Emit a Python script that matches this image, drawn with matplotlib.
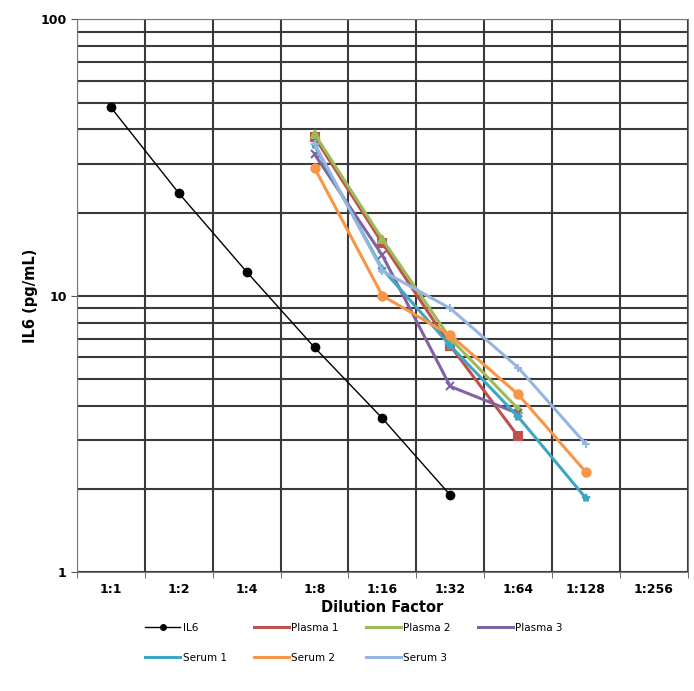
import matplotlib.pyplot as plt
import numpy as np

# dilution categories
cats = ['1:1', '1:2', '1:4', '1:8', '1:16', '1:32', '1:64', '1:128', '1:256']

il6 = [48, 23.5, 12.2, 6.5, 3.6, 1.9]
plasma1 = [37.5, 15.5, 6.6, 3.1]
plasma2 = [38.5, 16.0, 7.0, 3.9]
plasma3 = [32.5, 14.0, 4.7, 3.75]
serum1 = [35.0, 12.5, 6.6, 3.65, 1.85]
serum2 = [29.0, 10.0, 7.2, 4.4, 2.3]
serum3 = [35.5, 12.3, 9.0, 5.5, 2.9]

fig = plt.figure(figsize=(6.94, 6.91), dpi=100)
ax = fig.add_axes([0.111, 0.172, 0.880, 0.8])

x = np.arange(len(cats))
h_il6, = ax.plot(x[:len(il6)], il6, color='black', lw=1, marker='o', ms=6, label='IL6')
series = [
    ('Plasma 1', plasma1, '#C0504D', 's'),
    ('Plasma 2', plasma2, '#9BBB59', '^'),
    ('Plasma 3', plasma3, '#8064A2', 'x'),
    ('Serum 1', serum1, '#3FA6C0', '*'),
    ('Serum 2', serum2, '#F79646', 'o'),
    ('Serum 3', serum3, '#95B6E0', '+'),
]
handles = {}
for name, vals, col, mk in series:
    xs = x[3:3 + len(vals)]
    h, = ax.plot(xs, vals, color=col, lw=2.2, marker=mk, ms=6, mew=1.5, label=name)
    handles[name] = h

ax.set_yscale('log')
ax.set_ylim(1, 100)
ax.set_xlim(-0.5, len(cats) - 0.5)
ax.set_xticks(x)
ax.set_xticklabels(cats, fontsize=9, fontweight='bold')
ax.set_xticks(np.arange(len(cats) + 1) - 0.5, minor=True)
ax.tick_params(axis='x', which='major', length=0, pad=8)
ax.tick_params(axis='x', which='minor', length=4, color='#555555')
ax.set_yticks([1, 10, 100])
ax.set_yticklabels(['1', '10', '100'], fontsize=9, fontweight='bold')
ax.tick_params(axis='y', which='major', length=4, color='#555555')
ax.tick_params(axis='y', which='minor', length=0)
ax.yaxis.set_minor_formatter(plt.NullFormatter())

ax.grid(True, which='both', axis='y', color='#3a3a3a', lw=1.5)
ax.grid(True, which='minor', axis='x', color='#3a3a3a', lw=1.5)
ax.set_axisbelow(True)
for s in ax.spines.values():
    s.set_color('#777777')

ax.set_xlabel('Dilution Factor', fontsize=10.5, fontweight='bold', labelpad=3)
ax.set_ylabel('IL6 (pg/mL)', fontsize=10.5, fontweight='bold', labelpad=2)

order = [h_il6, handles['Serum 1'], handles['Plasma 1'], handles['Serum 2'],
         handles['Plasma 2'], handles['Serum 3'], handles['Plasma 3']]
leg = fig.legend(handles=order, labels=[h.get_label() for h in order], ncol=4,
                 loc='upper center', bbox_to_anchor=(0.51, 0.112), frameon=False,
                 fontsize=7.5, handlelength=3.4, columnspacing=2.6, labelspacing=1.9,
                 handletextpad=0.2)
for h in leg.legend_handles:
    h.set_marker('')
leg.legend_handles[0].set_marker('o')
leg.legend_handles[0].set_markersize(4)

plt.savefig('out.png', dpi=100)
